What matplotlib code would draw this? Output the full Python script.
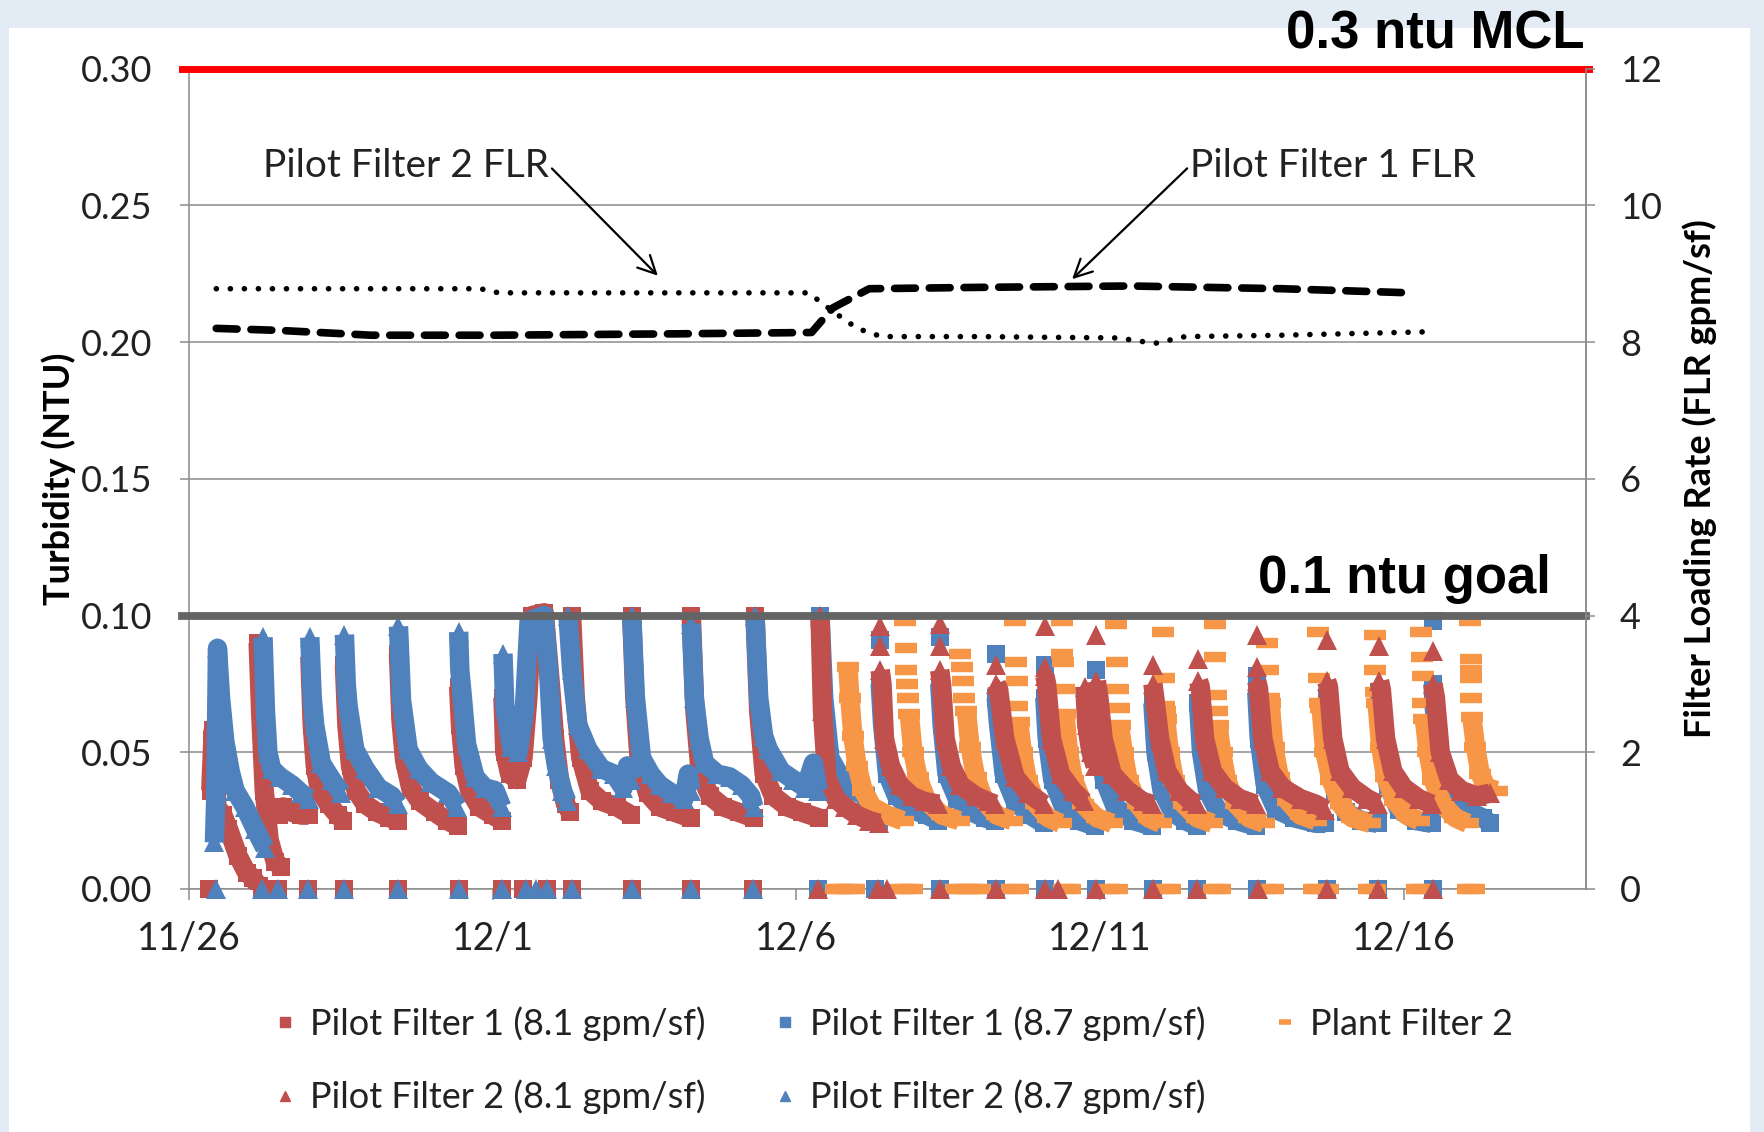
import numpy as np
import matplotlib.pyplot as plt
from matplotlib.lines import Line2D
from matplotlib.patches import Rectangle

plt.rcParams['font.family'] = ['Lato', 'DejaVu Sans']
plt.rcParams['lines.scale_dashes'] = False

# x is days after 11/26
tick_days = [0, 5, 10, 15, 20]
tick_labels = ["11/26", "12/1", "12/6", "12/11", "12/16"]

# Pilot Filter 1 (8.1 gpm/sf) - red squares, one list per filter run (day, ntu)
pf1_81_runs = [
    [(0.36, 0.036), (0.40, 0.058), (0.46, 0.030), (0.56, 0.027), (0.65, 0.022), (0.81, 0.012), (0.95, 0.006), (1.05, 0.004), (1.15, 0.001)],
    [(1.14, 0.090), (1.18, 0.065), (1.24, 0.036), (1.32, 0.018), (1.42, 0.010), (1.52, 0.008)],
    [(1.48, 0.027), (1.55, 0.030), (1.70, 0.028), (1.85, 0.027), (1.97, 0.027)],
    [(1.99, 0.085), (2.03, 0.060), (2.08, 0.045), (2.15, 0.036), (2.30, 0.031), (2.45, 0.027), (2.54, 0.025)],
    [(2.56, 0.082), (2.60, 0.060), (2.66, 0.045), (2.75, 0.036), (2.90, 0.031), (3.10, 0.028), (3.30, 0.026), (3.44, 0.025)],
    [(3.45, 0.086), (3.49, 0.062), (3.55, 0.047), (3.65, 0.037), (3.80, 0.032), (4.05, 0.028), (4.25, 0.025), (4.43, 0.023)],
    [(4.44, 0.074), (4.47, 0.060), (4.53, 0.045), (4.62, 0.036), (4.78, 0.030), (5.00, 0.027), (5.15, 0.025)],
    [(5.17, 0.070), (5.20, 0.050), (5.28, 0.042), (5.40, 0.040), (5.50, 0.048), (5.58, 0.070), (5.65, 0.100), (5.85, 0.101),
     (5.95, 0.075), (6.02, 0.055), (6.10, 0.040), (6.20, 0.031), (6.28, 0.028)],
    [(6.30, 0.100), (6.36, 0.070), (6.45, 0.048), (6.60, 0.036), (6.80, 0.032), (7.05, 0.030), (7.28, 0.027)],
    [(7.29, 0.100), (7.34, 0.070), (7.42, 0.045), (7.55, 0.035), (7.75, 0.030), (8.00, 0.028), (8.26, 0.026)],
    [(8.27, 0.100), (8.33, 0.065), (8.42, 0.042), (8.58, 0.034), (8.80, 0.030), (9.05, 0.028), (9.30, 0.026)],
    [(9.32, 0.100), (9.38, 0.065), (9.47, 0.042), (9.62, 0.034), (9.85, 0.030), (10.10, 0.028), (10.37, 0.026)],
]
pf1_81_zero = [0.33, 1.20, 1.47, 1.96, 2.56, 3.45, 4.44, 5.15, 5.50, 5.90, 6.30, 7.29, 8.27, 9.29]

# Pilot Filter 2 (8.7 gpm/sf) - blue triangles
pf2_87_runs = [
    [(0.42, 0.017), (0.44, 0.032), (0.47, 0.088), (0.52, 0.070), (0.59, 0.054), (0.68, 0.043), (0.76, 0.036), (0.92, 0.030), (1.09, 0.022), (1.25, 0.015)],
    [(1.22, 0.092), (1.26, 0.065), (1.30, 0.050), (1.36, 0.044), (1.50, 0.041), (1.70, 0.038), (1.85, 0.035), (1.97, 0.033)],
    [(1.99, 0.092), (2.03, 0.070), (2.07, 0.060), (2.18, 0.046), (2.35, 0.040), (2.51, 0.035)],
    [(2.56, 0.093), (2.59, 0.075), (2.62, 0.067), (2.73, 0.051), (2.90, 0.044), (3.12, 0.037), (3.34, 0.034), (3.44, 0.031)],
    [(3.45, 0.096), (3.48, 0.080), (3.50, 0.069), (3.61, 0.051), (3.78, 0.044), (3.99, 0.039), (4.27, 0.035), (4.42, 0.030)],
    [(4.44, 0.094), (4.46, 0.080), (4.49, 0.073), (4.57, 0.053), (4.71, 0.041), (4.87, 0.037), (5.04, 0.036), (5.15, 0.030)],
    [(5.17, 0.086), (5.20, 0.067), (5.31, 0.052), (5.42, 0.050), (5.52, 0.065), (5.60, 0.098), (5.85, 0.100), (5.92, 0.080),
     (5.98, 0.055), (6.05, 0.045), (6.15, 0.036), (6.22, 0.032)],
    [(6.24, 0.100), (6.30, 0.080), (6.40, 0.060), (6.57, 0.051), (6.79, 0.044), (7.00, 0.042), (7.15, 0.037), (7.22, 0.045), (7.27, 0.040)],
    [(7.29, 0.100), (7.35, 0.070), (7.45, 0.048), (7.60, 0.042), (7.75, 0.038), (7.95, 0.035), (8.15, 0.033), (8.22, 0.042), (8.26, 0.036)],
    [(8.27, 0.097), (8.32, 0.070), (8.40, 0.055), (8.49, 0.046), (8.70, 0.042), (8.90, 0.041), (9.10, 0.038), (9.25, 0.034), (9.30, 0.030)],
    [(9.32, 0.100), (9.38, 0.070), (9.46, 0.056), (9.54, 0.051), (9.75, 0.043), (9.95, 0.040), (10.15, 0.037), (10.28, 0.046), (10.36, 0.036)],
]
pf2_87_zero = [0.45, 1.20, 1.47, 1.96, 2.56, 3.45, 4.44, 5.15, 5.55, 5.72, 5.90, 6.30, 7.29, 8.27, 9.29]

# Pilot Filter 1 (8.7 gpm/sf) - blue squares
pf1_87_runs = [
    [(10.39, 0.100), (10.45, 0.070), (10.55, 0.048), (10.75, 0.040), (10.95, 0.036), (11.15, 0.034), (11.25, 0.028), (11.36, 0.025)],
    [(11.38, 0.075), (11.42, 0.060), (11.50, 0.042), (11.65, 0.034), (11.90, 0.029), (12.15, 0.027), (12.34, 0.025)],
    [(12.36, 0.075), (12.40, 0.060), (12.48, 0.042), (12.65, 0.033), (12.90, 0.028), (13.10, 0.026), (13.27, 0.025)],
    [(13.29, 0.070), (13.33, 0.060), (13.42, 0.042), (13.60, 0.032), (13.85, 0.027), (14.07, 0.024)],
    [(14.09, 0.070), (14.13, 0.055), (14.22, 0.040), (14.40, 0.030), (14.65, 0.025), (14.92, 0.023)],
    [(14.94, 0.070), (14.98, 0.055), (15.07, 0.040), (15.25, 0.030), (15.55, 0.025), (15.85, 0.023)],
    [(15.87, 0.068), (15.92, 0.050), (16.02, 0.036), (16.20, 0.028), (16.40, 0.025), (16.60, 0.023)],
    [(16.62, 0.068), (16.67, 0.050), (16.77, 0.036), (16.95, 0.028), (17.25, 0.025), (17.56, 0.023)],
    [(17.58, 0.072), (17.62, 0.055), (17.72, 0.038), (17.90, 0.029), (18.20, 0.026), (18.55, 0.024), (18.71, 0.024)],
    [(18.73, 0.070), (18.77, 0.052), (18.87, 0.036), (19.05, 0.028), (19.30, 0.025), (19.57, 0.024)],
    [(19.60, 0.072), (19.64, 0.055), (19.74, 0.038), (19.92, 0.029), (20.20, 0.025), (20.46, 0.024)],
    [(20.48, 0.075), (20.52, 0.060), (20.62, 0.040), (20.85, 0.031), (21.10, 0.028), (21.30, 0.026), (21.42, 0.024)],
]
pf1_87_peaks = [(11.38, 0.091), (12.36, 0.092), (13.29, 0.086), (14.09, 0.082), (14.94, 0.080), (17.58, 0.078), (20.48, 0.098)]
pf1_87_zero = [10.36, 11.30, 12.36, 13.29, 14.09, 14.94, 15.87, 16.59, 17.58, 18.73, 19.58, 20.48]

# Pilot Filter 2 (8.1 gpm/sf) - red triangles
pf2_81_runs = [
    [(10.39, 0.100), (10.43, 0.065), (10.50, 0.041), (10.65, 0.033), (10.80, 0.030), (11.00, 0.027), (11.20, 0.025), (11.36, 0.024)],
    [(11.38, 0.080), (11.41, 0.075), (11.45, 0.055), (11.55, 0.045), (11.70, 0.038), (11.90, 0.034), (12.10, 0.032), (12.34, 0.031)],
    [(12.36, 0.080), (12.39, 0.075), (12.45, 0.055), (12.55, 0.045), (12.70, 0.038), (12.95, 0.034), (13.15, 0.032), (13.27, 0.031)],
    [(13.29, 0.075), (13.33, 0.073), (13.43, 0.055), (13.60, 0.041), (13.82, 0.035), (14.07, 0.031)],
    [(14.09, 0.078), (14.12, 0.075), (14.20, 0.055), (14.35, 0.042), (14.55, 0.036), (14.73, 0.032)],
    [(14.75, 0.074), (14.78, 0.060), (14.85, 0.050), (14.92, 0.045)],
    [(14.94, 0.076), (14.98, 0.070), (15.05, 0.055), (15.20, 0.042), (15.45, 0.036), (15.70, 0.032), (15.85, 0.031)],
    [(15.87, 0.075), (15.90, 0.070), (15.98, 0.055), (16.10, 0.043), (16.30, 0.036), (16.50, 0.032), (16.60, 0.031)],
    [(16.62, 0.076), (16.65, 0.074), (16.72, 0.055), (16.85, 0.043), (17.05, 0.037), (17.30, 0.033), (17.56, 0.031)],
    [(17.58, 0.076), (17.61, 0.073), (17.68, 0.055), (17.80, 0.043), (18.00, 0.037), (18.30, 0.033), (18.55, 0.031), (18.71, 0.029)],
    [(18.73, 0.076), (18.76, 0.074), (18.83, 0.055), (18.95, 0.043), (19.15, 0.037), (19.40, 0.033), (19.58, 0.031)],
    [(19.60, 0.076), (19.63, 0.073), (19.70, 0.055), (19.82, 0.043), (20.00, 0.037), (20.25, 0.033), (20.46, 0.031)],
    [(20.48, 0.075), (20.52, 0.070), (20.60, 0.050), (20.75, 0.040), (20.95, 0.036), (21.20, 0.034), (21.42, 0.035)],
]
pf2_81_peaks = [(11.38, 0.096), (11.38, 0.089), (12.36, 0.097), (12.36, 0.089), (13.29, 0.082), (14.09, 0.096),
                (14.09, 0.081), (14.94, 0.093), (15.87, 0.082), (16.62, 0.084), (17.58, 0.093), (17.58, 0.081),
                (18.73, 0.091), (19.60, 0.089), (20.48, 0.087)]
pf2_81_zero = [10.36, 11.35, 11.50, 12.36, 13.29, 14.09, 14.31, 14.94, 15.87, 16.59, 17.60, 18.73, 19.58, 20.48]

# Plant Filter 2 - orange dashes
plant_runs = [
    [(10.85, 0.081), (10.88, 0.070), (10.93, 0.056), (11.00, 0.045), (11.10, 0.036), (11.25, 0.030), (11.50, 0.027), (11.75, 0.025)],
    [(11.86, 0.064), (11.92, 0.050), (12.00, 0.041), (12.15, 0.032), (12.40, 0.027), (12.68, 0.025)],
    [(12.80, 0.065), (12.86, 0.052), (12.95, 0.041), (13.10, 0.032), (13.30, 0.027), (13.55, 0.025)],
    [(13.66, 0.061), (13.72, 0.050), (13.80, 0.040), (13.95, 0.031), (14.15, 0.026), (14.35, 0.024)],
    [(14.42, 0.064), (14.48, 0.050), (14.56, 0.040), (14.72, 0.031), (14.95, 0.026), (15.20, 0.024)],
    [(15.32, 0.060), (15.38, 0.050), (15.46, 0.040), (15.62, 0.031), (15.80, 0.026), (16.00, 0.024)],
    [(16.08, 0.062), (16.14, 0.050), (16.22, 0.040), (16.38, 0.031), (16.60, 0.026), (16.85, 0.024)],
    [(16.94, 0.060), (17.00, 0.050), (17.08, 0.040), (17.24, 0.031), (17.45, 0.026), (17.70, 0.024)],
    [(17.80, 0.068), (17.86, 0.052), (17.95, 0.041), (18.10, 0.032), (18.30, 0.027), (18.55, 0.025)],
    [(18.64, 0.066), (18.70, 0.050), (18.80, 0.040), (18.96, 0.031), (19.15, 0.026), (19.45, 0.024)],
    [(19.56, 0.068), (19.62, 0.052), (19.70, 0.041), (19.86, 0.032), (20.05, 0.027), (20.25, 0.025)],
    [(20.34, 0.062), (20.40, 0.050), (20.48, 0.040), (20.64, 0.031), (20.85, 0.026), (21.05, 0.024)],
    [(21.12, 0.063), (21.18, 0.052), (21.26, 0.042), (21.36, 0.037), (21.53, 0.036)],
]
plant_peaks = [
    (11.79, 0.098), (11.80, 0.088), (11.81, 0.080), (11.82, 0.075), (11.84, 0.070),
    (12.70, 0.086), (12.72, 0.081), (12.74, 0.076), (12.76, 0.070),
    (13.60, 0.098), (13.62, 0.083), (13.63, 0.076), (13.64, 0.067),
    (14.37, 0.098), (14.38, 0.086), (14.39, 0.083), (14.40, 0.073),
    (15.27, 0.097), (15.28, 0.083), (15.30, 0.073), (15.31, 0.066),
    (16.04, 0.094), (16.05, 0.077), (16.06, 0.067), (16.07, 0.065),
    (16.89, 0.097), (16.90, 0.085), (16.91, 0.071), (16.92, 0.065),
    (17.74, 0.090), (17.76, 0.080), (17.78, 0.070),
    (18.59, 0.094), (18.60, 0.077), (18.62, 0.068),
    (19.52, 0.093), (19.53, 0.080), (19.54, 0.072),
    (20.29, 0.094), (20.30, 0.085), (20.31, 0.078), (20.32, 0.068),
    (21.09, 0.098), (21.10, 0.084), (21.10, 0.080), (21.11, 0.077), (21.11, 0.070),
]
plant_zero = [10.65, 10.75, 10.85, 10.95, 11.70, 11.80, 11.90, 12.62, 12.72, 12.82, 12.92, 13.02, 13.55, 13.65,
              14.40, 14.50, 15.15, 15.28, 16.05, 16.15, 16.88, 16.98, 17.75, 17.85, 18.52, 18.62, 18.75,
              19.42, 19.52, 20.22, 20.32, 21.05, 21.15]

# filter loading rates (right axis, gpm/sf)
pf2_flr_days = [0.45, 2.0, 4.0, 4.8, 5.1, 7.0, 9.0, 10.2, 10.6, 11.0, 11.4, 13.0, 15.3, 15.9, 16.4, 18.0, 20.4]
pf2_flr = [8.78, 8.78, 8.78, 8.78, 8.72, 8.72, 8.72, 8.72, 8.45, 8.2, 8.08, 8.08, 8.06, 7.98, 8.08, 8.1, 8.15]
pf1_flr_days = [0.45, 1.5, 3.0, 5.0, 8.0, 10.25, 10.6, 11.2, 13.0, 15.5, 18.0, 20.1]
pf1_flr = [8.2, 8.17, 8.1, 8.1, 8.12, 8.14, 8.5, 8.78, 8.8, 8.82, 8.78, 8.72]

RED = '#C0504D'
BLUE = '#4F81BD'
ORANGE = '#F79646'
GRID = '#8C8C8C'
TXT = '#222222'


def join_runs(runs):
    xs, ys = [], []
    for run in runs:
        xs += [p[0] for p in run] + [np.nan]
        ys += [p[1] for p in run] + [np.nan]
    return np.array(xs), np.array(ys)


fig = plt.figure(figsize=(17.64, 11.32), dpi=100, facecolor='#E3EBF5')
fig.add_artist(Rectangle((0.005, 0), 0.987, 0.975, transform=fig.transFigure, facecolor='white', edgecolor='none', zorder=-10))

ax = fig.add_axes([0.1071, 0.2147, 0.7920, 0.7247])
ax.set_facecolor('none')
ax.set_xlim(0, 23)
ax.set_ylim(0, 0.30)
ax.set_yticks(np.arange(0, 0.301, 0.05))
ax.set_yticklabels(['%.2f' % v for v in np.arange(0, 0.301, 0.05)])
ax.set_xticks(tick_days)
ax.set_xticklabels(tick_labels)
ax.grid(axis='y', color=GRID, lw=1.1)
ax.set_axisbelow(True)
ax.spines['top'].set_visible(False)
for s in ['left', 'right', 'bottom']:
    ax.spines[s].set_color(GRID)
    ax.spines[s].set_linewidth(1.1)
ax.tick_params(axis='y', direction='out', length=6.5, width=1.1, color=GRID, pad=20, labelsize=26, labelcolor=TXT)
ax.tick_params(axis='x', direction='out', length=8, width=1.1, color=GRID, pad=15, labelsize=27, labelcolor=TXT)
ax.set_ylabel('Turbidity (NTU)', fontsize=26, fontweight='bold')
ax.yaxis.set_label_coords(-0.081, 0.5)

# series in Excel drawing order
series = [
    (pf1_81_runs, None, pf1_81_zero, RED, 's'),
    (pf1_87_runs, pf1_87_peaks, pf1_87_zero, BLUE, 's'),
    (plant_runs, plant_peaks, plant_zero, ORANGE, '_'),
    (pf2_81_runs, pf2_81_peaks, pf2_81_zero, RED, '^'),
    (pf2_87_runs, None, pf2_87_zero, BLUE, '^'),
]
for i, (runs, peaks, zeros, col, mk) in enumerate(series):
    z = 3 + i
    if mk == '_':
        ms, mew = 16, 7.5
    else:
        ms, mew = 15 if mk == '^' else 13, 0
    x, y = join_runs(runs)
    ax.plot(x, y, color=col, lw=14, solid_joinstyle='round', solid_capstyle='butt', zorder=z)
    ax.plot(x, y, ls='none', marker=mk, ms=ms, mew=mew, color=col, mec=col, zorder=z)
    if peaks:
        ax.plot([p[0] for p in peaks], [p[1] for p in peaks], ls='none', marker=mk, ms=ms, mew=mew, color=col, mec=col, zorder=z)
    ax.plot(zeros, [0] * len(zeros), ls='none', marker=mk, ms=ms, mew=mew, color=col, mec=col, zorder=z, clip_on=False)

# goal and MCL lines
ax.plot([-0.005, 1.002], [0.30, 0.30], transform=ax.get_yaxis_transform(), color='#FF0000', lw=5, clip_on=False, zorder=10)
ax.plot([-0.005, 1.0], [0.10, 0.10], transform=ax.get_yaxis_transform(), color='#646464', lw=5.6, clip_on=False, zorder=10)
fig.text(0.898, 0.957, '0.3 ntu MCL', ha='right', va='baseline', fontsize=38, fontweight='bold', family='Liberation Sans')
fig.text(0.879, 0.476, '0.1 ntu goal', ha='right', va='baseline', fontsize=38, fontweight='bold', family='Liberation Sans')

# right axis: filter loading rate
ax2 = ax.twinx()
ax2.set_ylim(0, 12)
ax2.set_yticks(range(0, 13, 2))
for s in ['top', 'left', 'bottom']:
    ax2.spines[s].set_visible(False)
ax2.spines['right'].set_color(GRID)
ax2.spines['right'].set_linewidth(1.1)
ax2.tick_params(axis='y', direction='out', length=6.5, width=1.1, color=GRID, pad=18, labelsize=26, labelcolor=TXT)
ax2.set_ylabel('Filter Loading Rate (FLR gpm/sf)', fontsize=26, fontweight='bold')
ax2.yaxis.set_label_coords(1.069, 0.5)

ax2.plot(pf2_flr_days, pf2_flr, color='black', lw=4, dashes=(0.1, 10), dash_capstyle='round', zorder=5)
ax2.plot(pf1_flr_days, pf1_flr, color='black', lw=5.5, dashes=(15, 10), dash_capstyle='round', zorder=5)

ax2.annotate('Pilot Filter 2 FLR', xy=(7.72, 8.97), xytext=(5.93, 10.58), ha='right', va='center', fontsize=28,
             color=TXT, arrowprops=dict(arrowstyle='->', color='black', lw=1.6, mutation_scale=32,
                                        shrinkA=0, shrinkB=0, relpos=(1, 0.5)))
ax2.annotate('Pilot Filter 1 FLR', xy=(14.54, 8.92), xytext=(16.48, 10.58), ha='left', va='center', fontsize=28,
             color=TXT, arrowprops=dict(arrowstyle='->', color='black', lw=1.6, mutation_scale=32,
                                        shrinkA=0, shrinkB=0, relpos=(0, 0.5)))

# legend
handles = [
    Line2D([], [], ls='none', marker='s', ms=7, color=RED),
    Line2D([], [], ls='none', marker='^', ms=7, color=RED),
    Line2D([], [], ls='none', marker='s', ms=7, color=BLUE),
    Line2D([], [], ls='none', marker='^', ms=7, color=BLUE),
    Line2D([], [], ls='none', marker='_', ms=9, mew=4, color=ORANGE),
]
labels = ['Pilot Filter 1 (8.1 gpm/sf)', 'Pilot Filter 2 (8.1 gpm/sf)', 'Pilot Filter 1 (8.7 gpm/sf)',
          'Pilot Filter 2 (8.7 gpm/sf)', 'Plant Filter 2']
fig.legend(handles, labels, ncol=3, loc='upper left', bbox_to_anchor=(0.145, 0.127), frameon=False,
           fontsize=26, handlelength=0.6, handletextpad=0.4, columnspacing=1.9, labelspacing=1.07, borderpad=0,
           labelcolor=TXT)

fig.savefig('out.png', dpi=100, facecolor=fig.get_facecolor())
